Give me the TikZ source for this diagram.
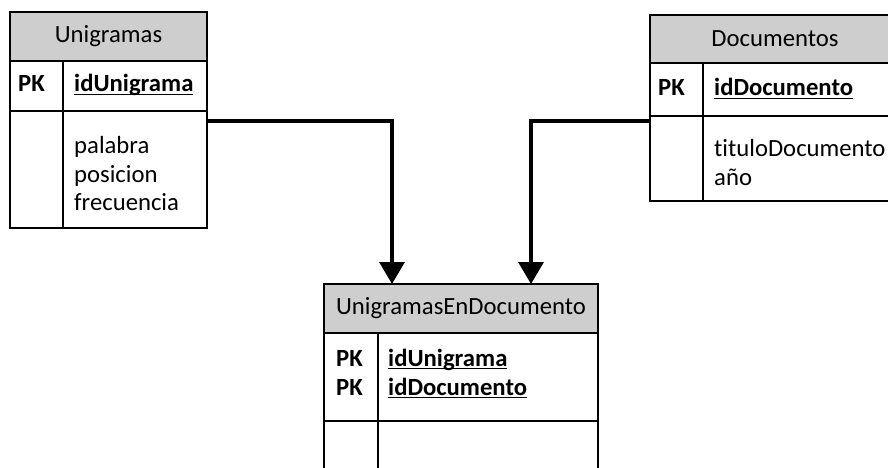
\documentclass[tikz,border=0pt]{standalone}
\usepackage{fontspec}
\setmainfont{Carlito}[Ligatures=NoCommon]
\usetikzlibrary{arrows.meta}
\definecolor{hdrgray}{RGB}{206,206,206}
\newcommand\keyul[1]{\setbox0\hbox{#1}\rlap{\rule[-3.4pt]{\wd0}{1.6pt}}\box0}
\begin{document}
\begin{tikzpicture}[x=1pt,y=-1pt,
  tbl/.style={draw=black, line width=2pt, anchor=north west, inner sep=0pt, outer sep=0pt},
  hdr/.style={tbl, fill=hdrgray, font=\fontsize{24.7}{28}\selectfont},
  sec/.style={tbl, fill=white},
  divl/.style={line width=2pt},
  txt/.style={anchor=base west, inner sep=0pt, font=\fontsize{24.7}{28.5}\selectfont},
  pk/.style={txt, font=\fontsize{24.7}{28.5}\selectfont\bfseries},
  conn/.style={line width=3.5pt, -{Triangle[length=22pt,width=25pt]}}]
\path[use as bounding box, clip] (0,0) rectangle (888,468);
\fill[white] (0,0) rectangle (888,468);

% Unigramas
\node[hdr, minimum width=197pt, minimum height=49pt] (uhead) at (10,12) {Unigramas};
\node[sec, minimum width=197pt, minimum height=50pt] (upk) at (10,61) {};
\node[sec, minimum width=197pt, minimum height=117pt] (ubody) at (10,111) {};
\draw[divl] (63,61) -- (63,228);
\node[pk] (upkl) at (18,92) {PK};
\node[pk] (upkf) at (74,92) {\keyul{idUnigrama}};
\node[txt] (u1) at (74,153) {palabra};
\node[txt] (u2) at (74,182) {posicion};
\node[txt] (u3) at (74,210) {frecuencia};

% Documentos
\node[hdr, minimum width=250pt, minimum height=48pt] (dhead) at (650,15) {Documentos};
\node[sec, minimum width=250pt, minimum height=53pt] (dpk) at (650,63) {};
\node[sec, minimum width=250pt, minimum height=85pt] (dbody) at (650,116) {};
\draw[divl] (703,63) -- (703,201);
\node[pk] (dpkl) at (658,96) {PK};
\node[pk] (dpkf) at (714,96) {\keyul{idDocumento}};
\node[txt] (d1) at (714,157) {tituloDocumento};
\node[txt] (d2) at (714,185) {año};

% UnigramasEnDocumento
\node[hdr, minimum width=274pt, minimum height=49pt] (ehead) at (324,284) {UnigramasEnDocumento};
\node[sec, minimum width=274pt, minimum height=88pt] (epk) at (324,333) {};
\node[sec, minimum width=274pt, minimum height=70pt] (ebody) at (324,421) {};
\draw[divl] (378,333) -- (378,491);
\node[pk] (epk1) at (336,366) {PK};
\node[pk] (epk2) at (336,395) {PK};
\node[pk] (ef1) at (388,366) {\keyul{idUnigrama}};
\node[pk] (ef2) at (388,395) {\keyul{idDocumento}};

% connectors
\coordinate (c1) at (207,121);
\coordinate (t1) at (392,284);
\coordinate (c2) at (650,121);
\coordinate (t2) at (531,284);
\draw[conn] (c1) -| (t1);
\draw[conn] (c2) -| (t2);
\end{tikzpicture}
\end{document}
